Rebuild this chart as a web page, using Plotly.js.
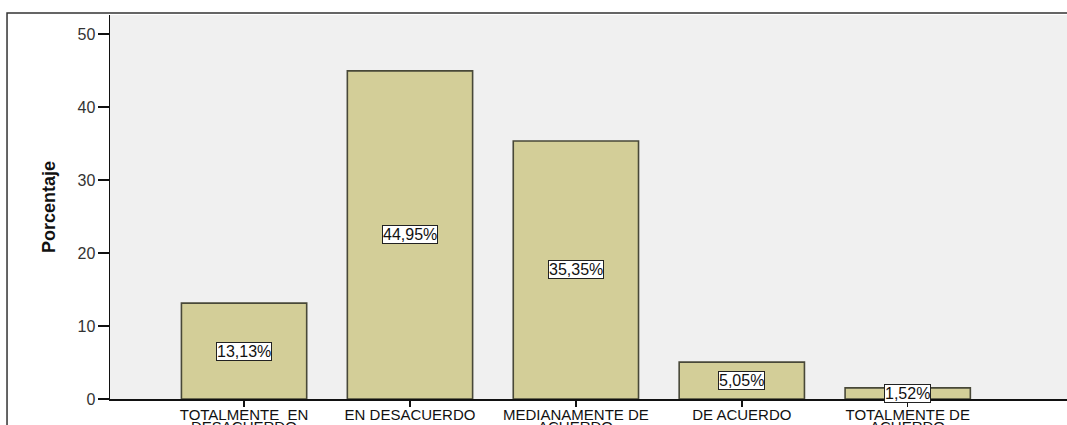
<!DOCTYPE html>
<html>
<head>
<meta charset="utf-8">
<script src="https://cdn.plot.ly/plotly-3.0.1.min.js"></script>
<style>html,body{margin:0;padding:0;background:#fff;}#chart{width:1067px;height:425px;}</style>
</head>
<body>
<div id="chart"></div>
<script>
// Data
var categories = ["TOTALMENTE  EN DESACUERDO", "EN DESACUERDO", "MEDIANAMENTE DE ACUERDO", "DE ACUERDO", "TOTALMENTE DE ACUERDO"];
var labelLine1 = ["TOTALMENTE\u00a0 EN", "EN DESACUERDO", "MEDIANAMENTE DE", "DE ACUERDO", "TOTALMENTE DE"];
var labelLine2 = ["DESACUERDO", "", "ACUERDO", "", "ACUERDO"];
var percentages = [13.13, 44.95, 35.35, 5.05, 1.52];
var valueLabels = ["13,13%", "44,95%", "35,35%", "5,05%", "1,52%"];
var yTicks = [0, 10, 20, 30, 40, 50];

var FONT = "Liberation Sans, Arial, sans-serif";

var trace = {
  type: "bar",
  x: categories,
  y: percentages,
  width: 0.755,
  marker: {color: "rgb(211,206,152)", line: {color: "rgb(72,72,56)", width: 1.6}},
  hoverinfo: "none"
};

var annotations = [];
categories.forEach(function(c, i) {
  annotations.push({
    xref: "x", yref: "y", x: c, y: percentages[i] / 2,
    text: valueLabels[i], showarrow: false,
    font: {family: FONT, size: 16, color: "#111"},
    bgcolor: "#ffffff", bordercolor: "#222", borderwidth: 1, borderpad: 0
  });
  if (labelLine2[i]) {
    annotations.push({
      xref: "x", yref: "paper", x: c, y: 0, yanchor: "top", yshift: -17,
      text: labelLine2[i], showarrow: false,
      font: {family: FONT, size: 15, color: "#111"}
    });
  }
});

var layout = {
  width: 1067, height: 425,
  margin: {l: 110, r: 0, t: 15, b: 26},
  paper_bgcolor: "#ffffff",
  plot_bgcolor: "#f0f0f0",
  showlegend: false,
  bargap: 0,
  xaxis: {
    type: "category",
    range: [-0.808, 4.96],
    tickmode: "array", tickvals: categories, ticktext: labelLine1,
    ticks: "outside", ticklen: 6, tickcolor: "#111", tickwidth: 1.5,
    ticklabelstandoff: -5,
    showline: true, linecolor: "#111", linewidth: 1.5,
    showgrid: false, zeroline: false,
    tickfont: {family: FONT, size: 15, color: "#111"},
    automargin: false
  },
  yaxis: {
    range: [0, 52.6],
    tickmode: "array", tickvals: yTicks,
    ticks: "outside", ticklen: 11, tickcolor: "#111", tickwidth: 1.2,
    ticklabelstandoff: -1,
    showline: true, linecolor: "#111", linewidth: 1.5,
    showgrid: false, zeroline: false,
    tickfont: {family: FONT, size: 16, color: "#333"},
    title: {text: "<b>Porcentaje</b>", standoff: 17,
            font: {family: FONT, size: 18, color: "#111"}},
    automargin: false
  },
  annotations: annotations,
  shapes: [{
    type: "rect", xref: "paper", yref: "paper",
    x0: -0.1076, x1: 1.2, y0: -0.3, y1: 1.0052,
    line: {color: "#333", width: 1.5}, fillcolor: "rgba(0,0,0,0)", layer: "above"
  }]
};

Plotly.newPlot("chart", [trace], layout, {displayModeBar: false, staticPlot: true});
</script>
</body>
</html>
